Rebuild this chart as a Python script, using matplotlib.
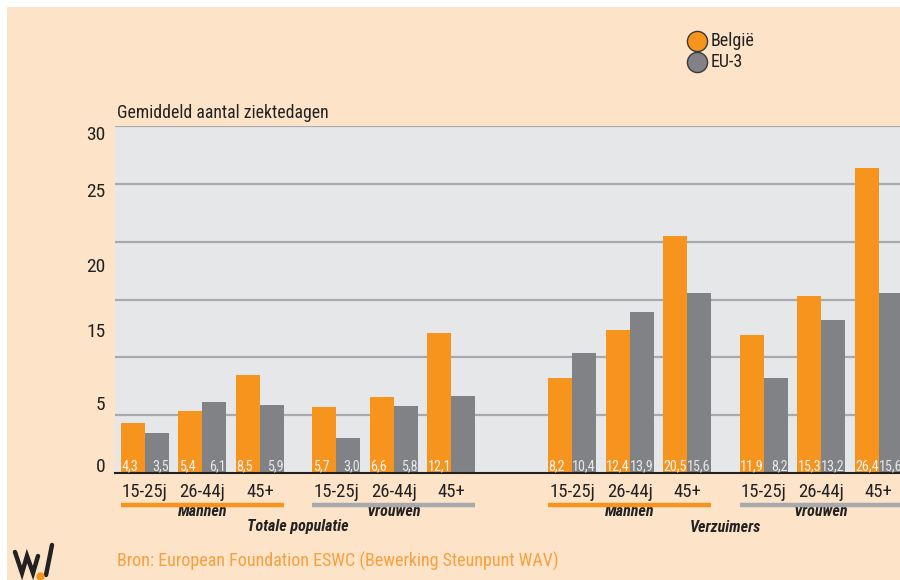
import matplotlib
matplotlib.use("Agg")
import matplotlib.pyplot as plt
import matplotlib.transforms as mtransforms
from matplotlib import font_manager
from matplotlib.lines import Line2D
from matplotlib.patches import Rectangle

# ---- pick a narrow font if one is installed ----
_names = {f.name for f in font_manager.fontManager.ttflist}
_cond = {f.name for f in font_manager.fontManager.ttflist
         if f.stretch in ("condensed", "semi-condensed", "extra-condensed", 375)}
if "Roboto Condensed" in _names:
    FAM, NARROW = ["Roboto Condensed", "DejaVu Sans"], True
elif "Liberation Sans Narrow" in _names:
    FAM, NARROW = ["Liberation Sans Narrow", "DejaVu Sans"], True
elif "DejaVu Sans" in _cond:
    FAM, NARROW = ["DejaVu Sans"], True
    plt.rcParams["font.stretch"] = "condensed"
else:
    FAM, NARROW = ["DejaVu Sans"], False
plt.rcParams["font.family"] = FAM
S = 1.0 if NARROW else 0.85

# ---- data ----
age_groups = ["15-25j", "26-44j", "45+"]
sexes = ["Mannen", "Vrouwen"]
sections = ["Totale populatie", "Verzuimers"]
series_names = ["België", "EU-3"]
belgie = [4.3, 5.4, 8.5, 5.7, 6.6, 12.1, 8.2, 12.4, 20.5, 11.9, 15.3, 26.4]
eu3 = [3.5, 6.1, 5.9, 3.0, 5.8, 6.7, 10.4, 13.9, 15.6, 8.2, 13.2, 15.6]
eu3_label_shown = [True, True, True, True, True, False, True, True, True, True, True, True]
ytick_labels = ["0", "5", "15", "20", "25", "30"]
y_title = "Gemiddeld aantal ziektedagen"
source = "Bron: European Foundation ESWC (Bewerking Steunpunt WAV)"

ORANGE = "#f7941d"
GREY = "#808285"
PEACH = "#fde3c8"
PLOTBG = "#e6e7e8"
GRID = "#a7a9ac"

W, H = 900, 580
fig = plt.figure(figsize=(9, 5.8), dpi=100)
fig.patch.set_facecolor("white")
fig.add_artist(Rectangle((7 / W, 0), 1 - 7 / W, 1 - 7 / H, transform=fig.transFigure,
                         facecolor=PEACH, edgecolor="none", zorder=0))

def fx(px):
    return px / W

def fy(py):
    return 1 - py / H

ax = fig.add_axes([fx(115), fy(473), fx(900) - fx(115), fy(126) - fy(473)])
ax.set_facecolor(PLOTBG)
ax.set_zorder(1)

# group positions
subgroup_gap = 0.33
section_gap = 2.1
centers = []
for s in range(len(sections)):
    for g in range(len(sexes)):
        for a in range(len(age_groups)):
            base = s * (2 * len(age_groups) - 1 + subgroup_gap + section_gap) \
                + g * (len(age_groups) + subgroup_gap) + a
            centers.append(base)
bw = 0.417

for y in range(5, 31, 5):
    ax.axhline(y, color=GRID, lw=1.6, zorder=1)

ax.bar([c - bw / 2 for c in centers], belgie, width=bw, color=ORANGE, zorder=2)
ax.bar([c + bw / 2 for c in centers], eu3, width=bw, color=GREY, zorder=2)

for i, c in enumerate(centers):
    ax.text(c - bw + 0.005, 0.62, f"{belgie[i]:.1f}".replace(".", ","), color="#f4f4f4",
            fontsize=10.2 * S, ha="left", va="center", zorder=3)
    if eu3_label_shown[i]:
        ax.text(c + bw - 0.005, 0.62, f"{eu3[i]:.1f}".replace(".", ","), color="#e8e8e8",
                fontsize=10.2 * S, ha="right", va="center", zorder=3)

ax.set_xlim(centers[0] - 0.52, centers[0] + 13.13)
ax.set_ylim(0, 30)
for sp in ["left", "right", "top"]:
    ax.spines[sp].set_visible(False)
ax.spines["bottom"].set_color("#222222")
ax.spines["bottom"].set_linewidth(1.5)

# odd y label positions as in the reference
ytick_pos = [0.7, 6.05, 12.4, 18.0, 24.5, 29.4]
ax.set_yticks(ytick_pos, ytick_labels)
ax.tick_params(axis="y", length=0, pad=7, labelsize=14 * S, labelcolor="#222222")
ax.set_xticks(centers, age_groups * 4)
ax.tick_params(axis="x", length=0, pad=7, labelsize=13.5 * S, labelcolor="#222222")

trans = mtransforms.blended_transform_factory(ax.transData, ax.transAxes)
line_y = (473 - 505) / (473 - 126)
sex_y = (473 - 511) / (473 - 126)
sec_y = (473 - 527) / (473 - 126)
line_colors = [ORANGE, "#a7a9ac"]
k = 0
for s in range(len(sections)):
    sec_centers = []
    for g in range(len(sexes)):
        cs = centers[k:k + 3]
        k += 3
        sec_centers += cs
        ax.plot([cs[0] - bw, cs[-1] + bw], [line_y, line_y], color=line_colors[g], lw=3.2,
                transform=trans, clip_on=False, solid_capstyle="butt", zorder=5)
        ax.text(cs[1], sex_y, sexes[g], transform=trans, ha="center", va="center",
                fontsize=11.5 * S, fontweight="bold", fontstyle="italic", color="#222222", zorder=4)
    ax.text((sec_centers[0] + sec_centers[-1]) / 2, sec_y, sections[s], transform=trans,
            ha="center", va="center", fontsize=11.5 * S, fontweight="bold", fontstyle="italic",
            color="#222222")

# title of y axis
fig.text(fx(117), fy(113), y_title, ha="left", va="center", fontsize=12.8 * S, color="#222222")

# legend
for j, (name, col) in enumerate(zip(series_names, [ORANGE, GREY])):
    yy = [41, 62][j]
    fig.add_artist(Line2D([fx(697)], [fy(yy)], marker="o", markersize=14.5, markerfacecolor=col,
                          markeredgecolor="#3a3a3a", markeredgewidth=1.0, linestyle="none",
                          transform=fig.transFigure))
    fig.text(fx(711), fy(yy), name, ha="left", va="center", fontsize=13 * S, color="#222222")

# source
fig.text(fx(117), fy(561), source, ha="left", va="center", fontsize=13 * S, color="#f7a040")

# logo
fig.add_artist(Line2D([fx(p) for p in [15, 22, 27, 33, 38]],
                      [fy(p) for p in [552, 573, 556, 573, 556]],
                      color="#222222", lw=3.2, transform=fig.transFigure,
                      solid_joinstyle="miter", solid_capstyle="round"))
fig.add_artist(Line2D([fx(46), fx(52)], [fy(575), fy(545)], color="#222222", lw=3.2,
                      transform=fig.transFigure, solid_capstyle="round"))
fig.add_artist(Line2D([fx(40)], [fy(576)], marker="o", markersize=5, color=ORANGE,
                      linestyle="none", transform=fig.transFigure))

fig.savefig("out.png", dpi=100, facecolor=fig.get_facecolor())
